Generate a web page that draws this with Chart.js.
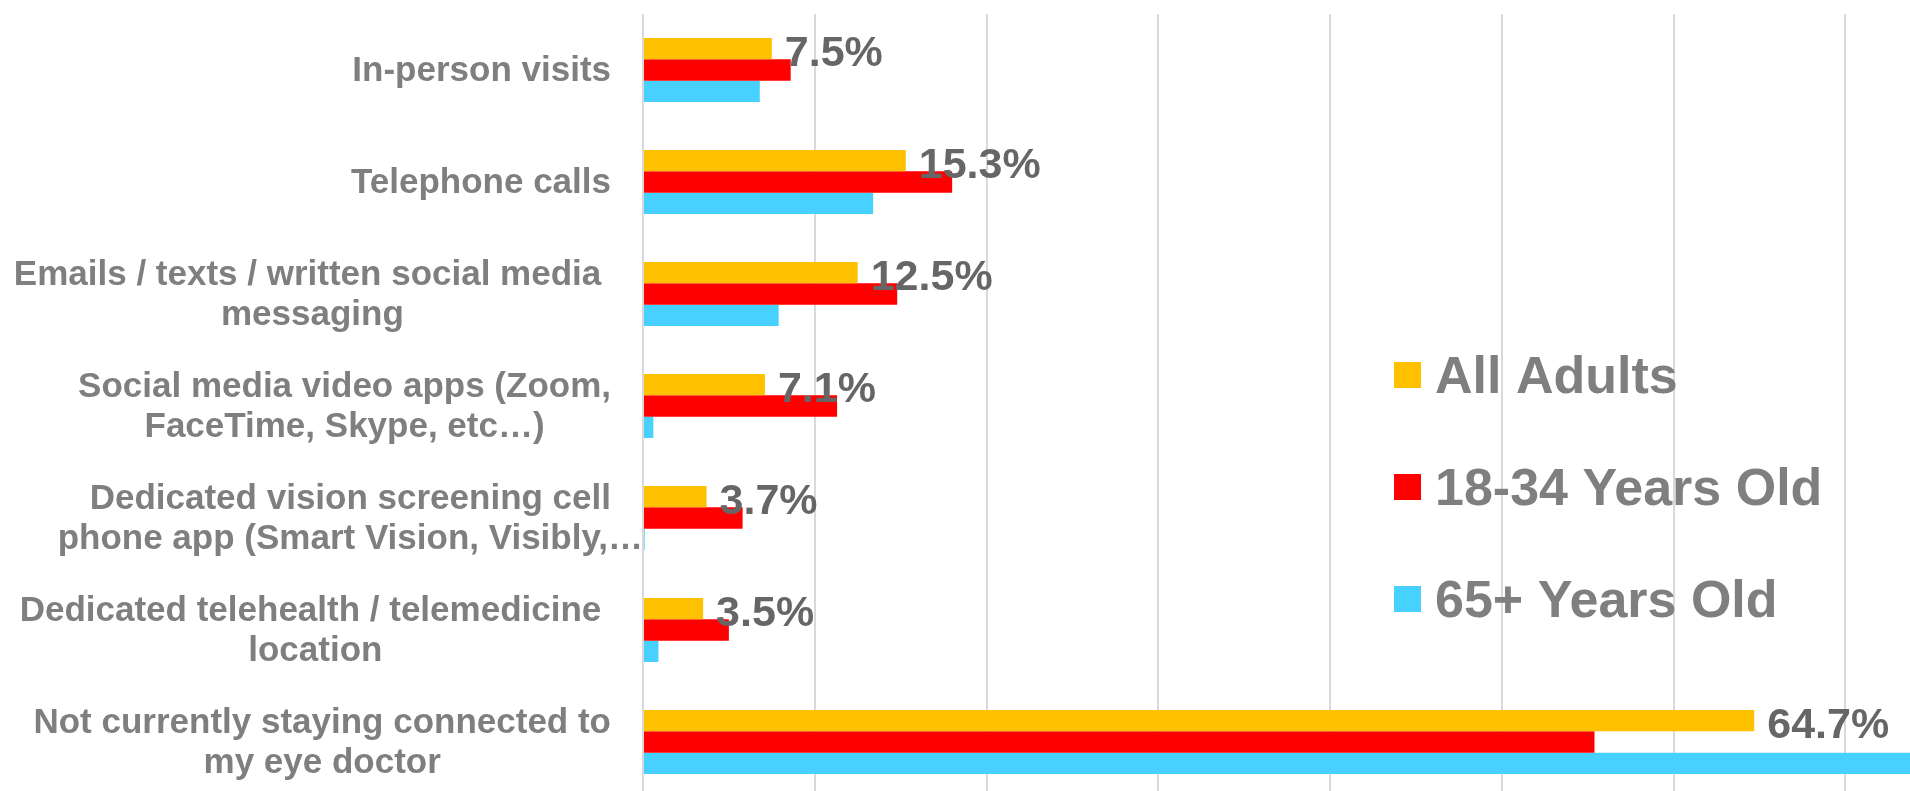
<!DOCTYPE html>
<html>
<head>
<meta charset="utf-8">
<title>Staying connected to the eye doctor</title>
<script src="https://cdn.jsdelivr.net/npm/chart.js@4/dist/chart.umd.min.js"></script>
<style>
  html, body { margin: 0; padding: 0; background: #ffffff; overflow: hidden; width: 1910px; height: 791px; }
  #wrap { position: absolute; left: 0; top: 0; }
  canvas { display: block; }
</style>
</head>
<body>
<div id="wrap"><canvas id="chart" width="2030" height="812"></canvas></div>
<script>
// Survey answers (one entry per category; arrays are wrapped label lines)
const categories = [
  'In-person visits',
  'Telephone calls',
  ['Emails / texts / written social media ', 'messaging'],
  ['Social media video apps (Zoom,', 'FaceTime, Skype, etc\u2026)'],
  ['Dedicated vision screening cell', 'phone app (Smart Vision, Visibly,\u2026'],
  ['Dedicated telehealth / telemedicine ', 'location'],
  ['Not currently staying connected to', 'my eye doctor']
];

const seriesNames = ['All Adults', '18-34 Years Old', '65+ Years Old'];

// Percent of respondents
const allAdults  = [7.5, 15.3, 12.5, 7.1, 3.7, 3.5, 64.7];
const age18to34  = [8.6, 18.0, 14.8, 11.3, 5.8, 5.0, 55.4];
const age65plus  = [6.8, 13.4, 7.9, 0.6, 0.1, 0.9, 76.2];

// Value axis range and gridline step (percent)
const axisMin = 0;
const axisMax = 80;
const axisStep = 10;

const seriesColors = ['#FFC000', '#FF0000', '#47D1FF'];

const FONT = '"Liberation Sans", Arial, Helvetica, sans-serif';
Chart.defaults.font.family = FONT;

// Category labels, value labels and legend drawn onto the canvas
const textLayer = {
  id: 'textLayer',
  afterDatasetsDraw(chart) {
    const ctx = chart.ctx;
    const yScale = chart.scales.y;
    const area = chart.chartArea;
    ctx.save();

    // Category labels: lines centred on the first line, which ends near the axis
    ctx.font = 'bold 35px ' + FONT;
    ctx.fillStyle = '#7f7f7f';
    ctx.textAlign = 'center';
    ctx.textBaseline = 'alphabetic';
    const labelRight = area.left - 32;
    const lineHeight = 40.5;
    chart.data.labels.forEach((label, i) => {
      const lines = Array.isArray(label) ? label : [label];
      const cy = yScale.getPixelForValue(i);
      const cx = labelRight - ctx.measureText(lines[0]).width / 2;
      lines.forEach((line, k) => {
        ctx.fillText(line, cx, cy + 11 + (k - (lines.length - 1) / 2) * lineHeight);
      });
    });

    // Value labels for the "All Adults" series
    ctx.font = 'bold 43px ' + FONT;
    ctx.fillStyle = '#666666';
    ctx.textAlign = 'left';
    const meta = chart.getDatasetMeta(0);
    meta.data.forEach((bar, i) => {
      const v = chart.data.datasets[0].data[i];
      ctx.fillText(v.toFixed(1) + '%', bar.x + 13, bar.y + 17);
    });

    // Legend block inside the plot
    const legendX = 1394;
    const legendY0 = 375;
    const legendGap = 112;
    ctx.font = 'bold 52px ' + FONT;
    chart.data.datasets.forEach((ds, k) => {
      const cy = legendY0 + k * legendGap;
      ctx.fillStyle = ds.backgroundColor;
      ctx.fillRect(legendX, cy - 13, 27, 26);
      ctx.fillStyle = '#7f7f7f';
      ctx.fillText(ds.label, legendX + 41, cy + 18);
    });

    ctx.restore();
  }
};

new Chart(document.getElementById('chart'), {
  type: 'bar',
  data: {
    labels: categories,
    datasets: [
      { label: seriesNames[0], data: allAdults, backgroundColor: seriesColors[0] },
      { label: seriesNames[1], data: age18to34, backgroundColor: seriesColors[1] },
      { label: seriesNames[2], data: age65plus, backgroundColor: seriesColors[2] }
    ]
  },
  options: {
    indexAxis: 'y',
    responsive: false,
    animation: false,
    devicePixelRatio: 1,
    layout: { padding: { left: 643, right: 13, top: 14, bottom: 14 } },
    datasets: {
      bar: { categoryPercentage: 0.5714, barPercentage: 1.0, borderWidth: 0 }
    },
    scales: {
      x: {
        min: axisMin,
        max: axisMax,
        ticks: { display: false, stepSize: axisStep },
        grid: { color: '#d9d9d9', lineWidth: 2, drawTicks: false },
        border: { display: false }
      },
      y: {
        display: false
      }
    },
    plugins: {
      legend: { display: false },
      tooltip: { enabled: false }
    }
  },
  plugins: [textLayer]
});
</script>
</body>
</html>
